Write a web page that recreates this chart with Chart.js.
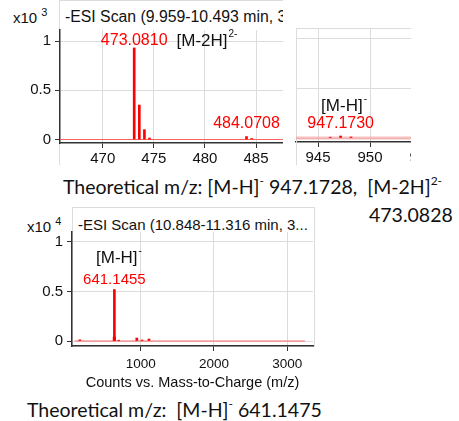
<!DOCTYPE html>
<html>
<head>
<meta charset="utf-8">
<title>ESI scans</title>
<script src="https://cdn.jsdelivr.net/npm/chart.js@4.4.1/dist/chart.umd.min.js"></script>
<style>
  body { margin:0; width:459px; height:421px; position:relative; overflow:hidden; background:#fff;
         font-family:"Liberation Sans", Arial, sans-serif; color:#111; }
  .clip { position:absolute; overflow:hidden; }
  .clip canvas { position:absolute; left:0; top:0; }
  .frame { position:absolute; border:1px solid #dcdcdc; box-sizing:border-box; }
  .txt { position:absolute; white-space:nowrap; line-height:1; }
  .mag sup { font-size:11px; position:relative; top:-3px; vertical-align:top; }
  .theo { position:absolute; white-space:nowrap; line-height:1; font-family:Lato, "Open Sans", sans-serif; font-size:19.5px; color:#111; }
  .theo sup { font-size:12px; vertical-align:top; position:relative; top:-2px; }
</style>
</head>
<body>

<div class="clip" style="left:0;top:0;width:283px;height:165px;">
  <div class="frame" style="left:59px;top:0;width:300px;height:200px;"></div>
  <div class="txt mag" style="left:13px;top:10px;font-size:15px;">x10 <sup>3</sup></div>
  <div class="txt" style="left:65px;top:9px;font-size:15.8px;">-ESI Scan (9.959-10.493 min, 3...</div>
  <canvas id="scan1" width="330" height="165"></canvas>
</div>

<div class="clip" style="left:284px;top:0;width:127px;height:165px;">
  <div class="frame" style="left:12px;top:28px;width:300px;height:200px;"></div>
  <canvas id="scan2" width="200" height="165"></canvas>
</div>

<div class="theo" style="left:63px;top:177px;">Theoretical m/z: [M-H]<sup>-</sup> 947.1728,&nbsp; [M-2H]<sup>2-</sup></div>
<div class="theo" style="left:369px;top:205px;">473.0828</div>

<div class="clip" style="left:0;top:200px;width:330px;height:195px;">
  <div class="frame" style="left:72px;top:7px;width:243px;height:140px;"></div>
  <div class="txt mag" style="left:27px;top:19px;font-size:15px;">x10 <sup>4</sup></div>
  <div class="txt" style="left:78px;top:17px;font-size:15px;">-ESI Scan (10.848-11.316 min, 3...</div>
  <canvas id="scan3" width="330" height="195"></canvas>
</div>

<div class="theo" style="left:27px;top:400px;">Theoretical m/z:&nbsp; [M-H]<sup>-</sup> 641.1475</div>

<script>
// scan 1: -ESI 9.959-10.493 min, [M-2H]2- region (x10^3 counts)
var scan1Mz  = [473.08, 473.58, 474.08, 474.58, 484.07, 484.57];
var scan1Int = [0.93, 0.35, 0.10, 0.015, 0.03, 0.01];
var scan1XTicks = [470, 475, 480, 485, 490];

// scan 2: same scan, [M-H]- region
var scan2Mz  = [946.17, 947.17, 948.17];
var scan2Int = [0.008, 0.02, 0.01];
var scan2XTicks = [945, 950, 955];

// scan 3: -ESI 10.848-11.316 min, full range (x10^4 counts)
var scan3Mz  = [170, 637, 641.15, 645, 700, 947, 1018, 1113];
var scan3Int = [0.012, 0.04, 0.52, 0.04, 0.008, 0.03, 0.01, 0.02];
var scan3XTicks = [1000, 2000, 3000];

var yTicks  = [0, 0.5, 1];
var yLabels = ['0', '0.5', '1'];

// flat baseline trace over the acquired range
var scan1Range = [460, 500];
var scan2Range = [940, 965];
var scan3Range = [100, 3240];

// peak annotations (anchored in data units)
var scan1Notes = [
  {text: '473.0810', x: 473.08, y: 1.0, color: '#ff0000', size: 16},
  {text: '[M-2H]', sup: '2-', x: 480.2, y: 1.0, color: '#111', size: 17},
  {text: '484.0708', x: 484.07, y: 0.157, color: '#ff0000', size: 16}
];
var scan2Notes = [
  {text: '[M-H]', sup: '-', x: 947.5, y: 0.32, color: '#111', size: 17},
  {text: '947.1730', x: 947.17, y: 0.14, color: '#ff0000', size: 16}
];
var scan3Notes = [
  {text: '[M-H]', sup: '-', x: 704, y: 0.84, color: '#111', size: 17},
  {text: '641.1455', x: 641.15, y: 0.616, color: '#ff0000', size: 15}
];

Chart.defaults.font.family = '"Liberation Sans", Arial, sans-serif';
Chart.defaults.color = '#111';

function notesPlugin(items) {
  return {
    id: 'peakNotes',
    afterDatasetsDraw: function(chart) {
      var ctx = chart.ctx, xs = chart.scales.x, ys = chart.scales.y;
      var fam = '"Liberation Sans", Arial, sans-serif';
      items.forEach(function(n) {
        var small = Math.round(n.size * 0.6);
        ctx.save();
        ctx.font = n.size + 'px ' + fam;
        var w = ctx.measureText(n.text).width, sw = 0;
        if (n.sup) {
          ctx.font = small + 'px ' + fam;
          sw = ctx.measureText(n.sup).width + 1;
        }
        var left = xs.getPixelForValue(n.x) - (w + sw) / 2;
        var cy = ys.getPixelForValue(n.y);
        ctx.fillStyle = n.color;
        ctx.textAlign = 'left';
        ctx.textBaseline = 'middle';
        ctx.font = n.size + 'px ' + fam;
        ctx.fillText(n.text, left, cy);
        if (n.sup) {
          ctx.font = small + 'px ' + fam;
          ctx.fillText(n.sup, left + w + 1, cy - n.size * 0.4);
        }
        ctx.restore();
      });
    }
  };
}

function makeScan(id, mz, inten, range, xTicks, notes, o) {
  var pts = mz.map(function(m, i) { return {x: m, y: inten[i]}; });
  return new Chart(document.getElementById(id), {
    type: 'bar',
    data: {
      datasets: [
        {data: pts, backgroundColor: '#ff0000', barThickness: o.bar, order: 1},
        {type: 'line', data: [{x: range[0], y: 0}, {x: range[1], y: 0}],
         borderColor: o.baseColor, borderWidth: o.baseWidth, pointRadius: 0, order: 2}
      ]
    },
    options: {
      responsive: false,
      animation: false,
      layout: {padding: o.pad},
      plugins: {legend: {display: false}, tooltip: {enabled: false}},
      scales: {
        x: {
          type: 'linear', min: o.xMin, max: o.xMax, offset: false,
          afterBuildTicks: function(s) { s.ticks = xTicks.map(function(v) { return {value: v}; }); },
          afterFit: function(s) { s.height = o.xH; },
          ticks: {font: {size: o.tickSize}, color: '#111', maxRotation: 0, autoSkip: false, padding: o.xPad,
                  callback: function(v) { return String(v); }},
          grid: {color: '#dcdcdc', tickColor: '#333', tickLength: 5, offset: false},
          border: {color: '#333', width: 1.5},
          title: o.xTitle ? {display: true, text: o.xTitle, font: {size: 14.5}, color: '#111', padding: {top: 0, bottom: 3}}
                          : {display: false}
        },
        y: {
          min: o.yMin, max: o.yMax,
          afterBuildTicks: function(s) { s.ticks = yTicks.map(function(v) { return {value: v}; }); },
          afterFit: function(s) { s.width = o.yW; },
          ticks: {display: o.showY, font: {size: o.yTickSize}, color: '#111', padding: 4,
                  callback: function(v) { return yLabels[yTicks.indexOf(v)]; }},
          grid: {color: '#dcdcdc', tickColor: '#333', tickLength: o.showY ? 5 : 0, drawTicks: o.showY},
          border: {color: o.showY ? '#333' : '#dcdcdc', width: o.showY ? 1.5 : 1}
        }
      }
    },
    plugins: [notesPlugin(notes)]
  });
}

makeScan('scan1', scan1Mz, scan1Int, scan1Range, scan1XTicks, scan1Notes, {
  xMin: 465.82, xMax: 491.26, yMin: -0.0355, yMax: 1.112,
  pad: {top: 30, right: 10, left: 0, bottom: 0}, xH: 22, yW: 60, xPad: 2,
  tickSize: 15, yTickSize: 15, bar: 2, baseColor: 'rgba(255,70,70,0.8)', baseWidth: 1.2, showY: true
});

makeScan('scan2', scan2Mz, scan2Int, scan2Range, scan2XTicks, scan2Notes, {
  xMin: 942.88, xMax: 959.42, yMin: -0.04, yMax: 1.1,
  pad: {top: 28, right: 16, left: 12, bottom: 0}, xH: 23, yW: 0, xPad: 2,
  tickSize: 15, yTickSize: 15, bar: 2, baseColor: 'rgba(245,150,150,0.6)', baseWidth: 3, showY: false
});

makeScan('scan3', scan3Mz, scan3Int, scan3Range, scan3XTicks, scan3Notes, {
  xMin: 63, xMax: 3351, yMin: -0.0505, yMax: 1.101,
  pad: {top: 32, right: 17, left: 0, bottom: 0}, xH: 49, yW: 72, xPad: 5,
  tickSize: 13.5, yTickSize: 15, bar: 2, baseColor: 'rgba(255,70,70,0.8)', baseWidth: 1.2, showY: true,
  xTitle: 'Counts vs. Mass-to-Charge (m/z)'
});
</script>
</body>
</html>
